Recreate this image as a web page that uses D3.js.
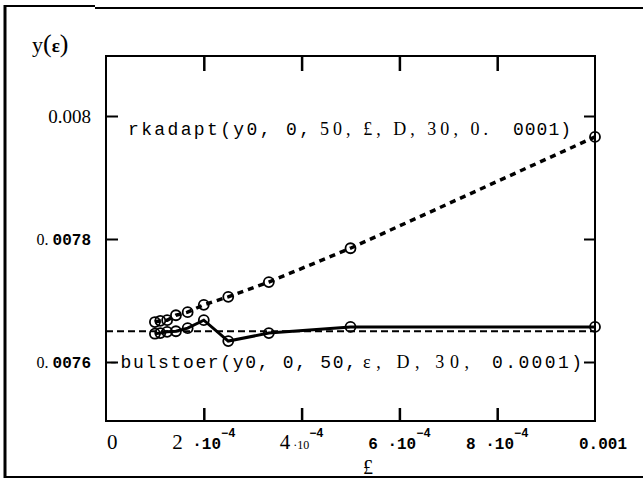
<!DOCTYPE html>
<html>
<head>
<meta charset="utf-8">
<script src="https://cdn.jsdelivr.net/npm/d3@7"></script>
<style>
  body { margin: 0; background: #fff; }
  svg { display: block; }
</style>
</head>
<body>
<svg id="chart" width="643" height="484"></svg>
<script>
// Step size eps and the solution value y(eps) returned by each integrator
const epsValues      = [0.0001, 0.000111, 0.000125, 0.000143, 0.000167, 0.0002, 0.00025, 0.000333, 0.0005, 0.001];
const rkadaptValues  = [0.007665, 0.007667, 0.007668, 0.007676, 0.007681, 0.007693, 0.007706, 0.00773, 0.007785, 0.007966];
const bulstoerValues = [0.007646, 0.007647, 0.007649, 0.00765, 0.007655, 0.007668, 0.007634, 0.007647, 0.007657, 0.007657];
const referenceValue = 0.00765;

const xTicks = [0, 0.0002, 0.0004, 0.0006, 0.0008, 0.001];
const xTickLabels = [["0", "", ""], ["2", " \u00b710", "\u22124"], ["4", " \u00b710", "\u22124"],
                     ["6", " \u00b710", "\u22124"], ["8", " \u00b710", "\u22124"], ["0.001", "", ""]];
const yTicks = [0.0076, 0.0078, 0.008];
const yTickLabels = ["0.0076", "0.0078", "0.008"];

const rkadaptLabel  = ["rkadapt(y0, 0,", "50, \u00a3, D, 30, 0.", "0001)"];
const bulstoerLabel = ["-bulstoer(y0, 0, 50,", "\u03b5, D, 30,", "0.0001)"];
const yAxisTitle = ["y", "(", "\u03b5", ")"];
const xAxisTitle = "\u00a3";

const MONO = "'Liberation Mono', 'DejaVu Sans Mono', monospace";
const SERIF = "'Liberation Serif', 'DejaVu Serif', serif";

const svg = d3.select("#chart");
const plot = { left: 106, right: 595, top: 56, bottom: 421 };

const x = d3.scaleLinear().domain([0, 0.001]).range([plot.left, plot.right]);
const y = d3.scaleLinear().domain([0.0076, 0.008]).range([362, 116]);

// outer frame (top, left, bottom edges)
const frame = svg.append("g").attr("stroke", "#000").attr("fill", "none");
frame.append("path").attr("d", "M5,6 H95 M95,8 H643").attr("stroke-width", 2);
frame.append("path").attr("d", "M5,5 V478").attr("stroke-width", 3);
frame.append("path").attr("d", "M4,477 H643").attr("stroke-width", 2);

// plot box
svg.append("rect")
  .attr("x", plot.left).attr("y", plot.top)
  .attr("width", plot.right - plot.left).attr("height", plot.bottom - plot.top)
  .attr("fill", "none").attr("stroke", "#000").attr("stroke-width", 2);

// inward ticks on all four sides
svg.append("g").attr("transform", `translate(0,${plot.bottom})`)
  .call(d3.axisBottom(x).tickValues(xTicks.slice(1, -1)).tickSize(-13).tickFormat(""))
  .call(g => g.select(".domain").remove())
  .call(g => g.selectAll("line").attr("stroke-width", 2.5));
svg.append("g").attr("transform", `translate(0,${plot.top})`)
  .call(d3.axisTop(x).tickValues(xTicks.slice(1, -1)).tickSize(-15).tickFormat(""))
  .call(g => g.select(".domain").remove())
  .call(g => g.selectAll("line").attr("stroke-width", 2.5));
svg.append("g").attr("transform", `translate(${plot.left},0)`)
  .call(d3.axisLeft(y).tickValues(yTicks).tickSize(-12).tickFormat(""))
  .call(g => g.select(".domain").remove())
  .call(g => g.selectAll("line").attr("stroke-width", 2));
svg.append("g").attr("transform", `translate(${plot.right},0)`)
  .call(d3.axisRight(y).tickValues(yTicks).tickSize(-11).tickFormat(""))
  .call(g => g.select(".domain").remove())
  .call(g => g.selectAll("line").attr("stroke-width", 2));

// y tick labels
yTicks.forEach((v, i) => {
  const label = yTickLabels[i];
  const t = svg.append("text")
    .attr("x", 91).attr("y", y(v)).attr("dy", "0.35em")
    .attr("text-anchor", "end").attr("fill", "#000");
  if (label === "0.008") {
    t.attr("font-family", SERIF).attr("font-size", 19).text(label);
  } else {
    t.append("tspan").attr("font-family", SERIF).attr("font-size", 16).text("0. ");
    t.append("tspan").attr("font-family", MONO).attr("font-size", 16).attr("font-weight", "bold")
      .text(label.slice(2));
  }
});

// x tick labels
xTicks.forEach((v, i) => {
  const [lead, mid, sup] = xTickLabels[i];
  const t = svg.append("text").attr("y", 449).attr("fill", "#000");
  if (i === 0) {
    t.attr("x", x(v) + 1).attr("text-anchor", "start");
  } else if (i === xTicks.length - 1) {
    t.attr("x", x(v) + 8).attr("text-anchor", "middle");
  } else {
    t.attr("x", x(v)).attr("text-anchor", "middle");
  }
  const leadSerif = i < 3;
  t.append("tspan")
    .attr("font-family", leadSerif ? SERIF : MONO)
    .attr("font-size", leadSerif ? 21 : 16)
    .attr("font-weight", leadSerif ? "normal" : "bold")
    .text(lead);
  if (mid) {
    t.append("tspan").attr("font-family", i === 2 ? SERIF : MONO)
      .attr("font-size", i === 2 ? 12 : 16).attr("font-weight", i === 2 ? "normal" : "bold")
      .text(mid);
    t.append("tspan").attr("font-family", MONO).attr("font-size", 12).attr("font-weight", "bold")
      .attr("dy", -12).text(sup);
  }
});

// axis titles
const yt = svg.append("text").attr("x", 32).attr("y", 52).attr("fill", "#000");
yt.append("tspan").attr("font-family", SERIF).attr("font-size", 22).text(yAxisTitle[0]);
yt.append("tspan").attr("font-family", SERIF).attr("font-size", 26).text(yAxisTitle[1]);
yt.append("tspan").attr("font-family", SERIF).attr("font-size", 19).attr("font-weight", "bold").text(yAxisTitle[2]);
yt.append("tspan").attr("font-family", SERIF).attr("font-size", 26).text(yAxisTitle[3]);

svg.append("text").attr("x", 368).attr("y", 474).attr("text-anchor", "middle")
  .attr("font-family", SERIF).attr("font-size", 20).text(xAxisTitle);

// data
const rk = epsValues.map((e, i) => ({ e, v: rkadaptValues[i] }));
const bs = epsValues.map((e, i) => ({ e, v: bulstoerValues[i] }));
const line = d3.line().x(d => x(d.e)).y(d => y(d.v));

// exact reference level
svg.append("line")
  .attr("x1", plot.left).attr("x2", plot.right)
  .attr("y1", y(referenceValue)).attr("y2", y(referenceValue))
  .attr("stroke", "#000").attr("stroke-width", 2).attr("stroke-dasharray", "7,4");

svg.append("path").datum(bs).attr("d", line)
  .attr("fill", "none").attr("stroke", "#000").attr("stroke-width", 3);

svg.append("path").datum(rk).attr("d", line)
  .attr("fill", "none").attr("stroke", "#000").attr("stroke-width", 3.5)
  .attr("stroke-dasharray", "6,5");

[rk, bs].forEach(series => {
  svg.append("g").selectAll("circle").data(series).join("circle")
    .attr("cx", d => x(d.e)).attr("cy", d => y(d.v)).attr("r", 5)
    .attr("fill", "none").attr("stroke", "#000").attr("stroke-width", 1.8);
});

// curve labels
function segmentedLabel(parts, xs, widths, baseline, fonts) {
  parts.forEach((p, i) => {
    svg.append("text")
      .attr("x", xs[i]).attr("y", baseline)
      .attr("font-family", fonts[i]).attr("font-size", 18)
      .attr("textLength", widths[i]).attr("lengthAdjust", "spacing")
      .attr("fill", "#000")
      .text(p);
  });
}
segmentedLabel(rkadaptLabel, [128, 320, 513], [182, 168, 58], 135, [MONO, SERIF, MONO]);
segmentedLabel(bulstoerLabel, [108, 363, 492], [248, 106, 90], 368, [MONO, SERIF, MONO]);
</script>
</body>
</html>
